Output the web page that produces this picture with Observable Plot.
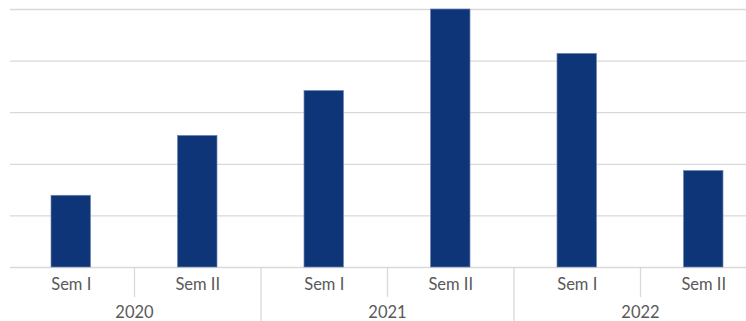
<!DOCTYPE html>
<html>
<head>
<meta charset="utf-8">
<script src="https://cdn.jsdelivr.net/npm/d3@7"></script>
<script src="https://cdn.jsdelivr.net/npm/@observablehq/plot@0.6"></script>
<style>
  html, body { margin: 0; padding: 0; background: #fff; overflow: hidden; }
</style>
</head>
<body>
<div id="chart"></div>
<script>
// Half-year values, grouped by year
const years = ["2020", "2021", "2022"];
const semesters = ["Sem I", "Sem II"];
const values = [13.9, 25.5, 34.2, 50, 41.4, 18.7];
const yTicks = [0, 10, 20, 30, 40, 50];

// One row per half-year; slot i occupies [i, i + 1] on the x axis
const periods = years.flatMap((year, j) =>
  semesters.map((semester, k) => ({
    year,
    semester,
    slot: j * semesters.length + k,
    value: values[j * semesters.length + k]
  }))
);
const yearRows = years.map((year, j) => ({year, slot: j * semesters.length}));
const slotCount = periods.length;

// Dividers: short ones between halves of a year, long ones between years
const innerDividers = years.map((_, j) => j * semesters.length + 1);
const yearDividers = years.slice(1).map((_, j) => (j + 1) * semesters.length);

const gridColor = "#d9d9d9";
const textColor = "#595959";

const chart = Plot.plot({
  width: 746,
  height: 321,
  marginTop: 9,
  marginBottom: 54,
  marginLeft: 10,
  marginRight: 0,
  style: {fontFamily: "Lato, 'Open Sans', sans-serif", fontSize: "16px", background: "#fff"},
  x: {domain: [0, slotCount], range: [7.5, 766.5], axis: null, label: null},
  y: {domain: [0, 50], axis: null, label: null},
  marks: [
    Plot.gridY({ticks: yTicks, stroke: gridColor, strokeOpacity: 1, strokeWidth: 1.3}),
    Plot.rectY(periods, {
      x1: "slot",
      x2: (d) => d.slot + 1,
      y1: 0,
      y2: "value",
      insetLeft: 43.5,
      insetRight: 43.5,
      fill: "#0e3577",
      stroke: "#6f86b3",
      strokeWidth: 0.7
    }),
    Plot.axisX({ticks: innerDividers, tickSize: 30, tickFormat: () => "", label: null, stroke: gridColor, strokeOpacity: 1, strokeWidth: 1.3}),
    Plot.axisX({ticks: yearDividers, tickSize: 54, tickFormat: () => "", label: null, stroke: gridColor, strokeOpacity: 1, strokeWidth: 1.3}),
    Plot.text(periods, {
      x: (d) => d.slot + 0.5,
      text: "semester",
      frameAnchor: "bottom",
      lineAnchor: "top",
      dy: 10.5,
      fill: textColor,
      fontSize: 16.5
    }),
    Plot.text(yearRows, {
      x: (d) => d.slot + semesters.length / 2,
      text: "year",
      frameAnchor: "bottom",
      lineAnchor: "top",
      dy: 38.5,
      fill: textColor,
      fontSize: 16.5
    })
  ]
});

document.getElementById("chart").appendChild(chart);
</script>
</body>
</html>
